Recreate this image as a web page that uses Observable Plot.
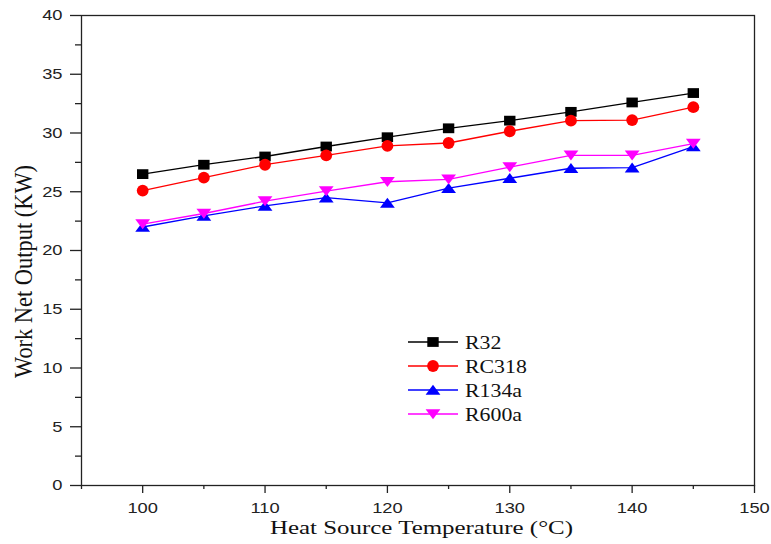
<!DOCTYPE html>
<html><head><meta charset="utf-8">
<script src="https://cdn.jsdelivr.net/npm/d3@7"></script>
<script src="https://cdn.jsdelivr.net/npm/@observablehq/plot@0.6"></script>
<style>body{margin:0;background:#fff} #chart{width:771px;height:544px}</style>
</head><body><div id="chart"></div>
<script>
const temps = [100, 105, 110, 115, 120, 125, 130, 135, 140, 145];
const r32   = [26.5, 27.3, 28.0, 28.85, 29.64, 30.4, 31.05, 31.8, 32.6, 33.4];
const rc318 = [25.1, 26.2, 27.3, 28.1, 28.9, 29.15, 30.15, 31.05, 31.1, 32.2];
const r134a = [22.0, 22.95, 23.8, 24.5, 24.05, 25.3, 26.15, 27.0, 27.05, 28.85];
const r600a = [22.25, 23.15, 24.2, 25.05, 25.85, 26.05, 27.1, 28.1, 28.1, 29.1];
const seriesNames = ["R32", "RC318", "R134a", "R600a"];
const seriesValues = [r32, rc318, r134a, r600a];
const seriesColors = ["#000000", "#ff0000", "#0000ff", "#ff00ff"];
const xTicks = [100, 110, 120, 130, 140, 150];
const xMinorTicks = [95, 105, 115, 125, 135, 145];
const yTicks = [0, 5, 10, 15, 20, 25, 30, 35, 40];
const yMinorTicks = [2.5, 7.5, 12.5, 17.5, 22.5, 27.5, 32.5, 37.5];
const xLabel = "Heat Source Temperature (°C)";
const yLabel = "Work Net Output (KW)";

const SX = 1.18;
function poly(pts) {
  return {draw(ctx) { ctx.moveTo(pts[0][0], pts[0][1]); for (let i = 1; i < pts.length; i++) ctx.lineTo(pts[i][0], pts[i][1]); ctx.closePath(); }};
}
const symSquare = poly([[-5.7, -4.9], [5.7, -4.9], [5.7, 4.9], [-5.7, 4.9]]);
const symCircle = {draw(ctx) { ctx.moveTo(5.9, 0); ctx.arc(0, 0, 5.9, 0, 2 * Math.PI); ctx.closePath(); }};
const symUp = poly([[0, -5.2], [7.4, 4.8], [-7.4, 4.8]]);
const symDown = poly([[0, 5.2], [7.4, -4.8], [-7.4, -4.8]]);
const symbols = [symSquare, symCircle, symUp, symDown];

const marks = [];
seriesNames.forEach((name, i) => {
  const rows = temps.map((t, j) => ({t, v: seriesValues[i][j]}));
  marks.push(Plot.line(rows, {x: "t", y: "v", stroke: seriesColors[i], strokeWidth: 1.3}));
  marks.push(Plot.dot(rows, {x: "t", y: "v", symbol: symbols[i], r: 5, fill: seriesColors[i], stroke: "none"}));
});

const axisColor = "#222";
const svg = Plot.plot({
  width: 771, height: 544,
  marginLeft: 81, marginRight: 17, marginTop: 15, marginBottom: 59,
  style: {fontFamily: "'Liberation Sans', Arial, sans-serif", fontSize: "15.5px", background: "#fff", color: axisColor},
  x: {domain: [95, 150]},
  y: {domain: [0, 40]},
  marks: [
    Plot.axisX({ticks: xMinorTicks, tickSize: 4, text: null, label: null, stroke: axisColor, strokeWidth: 1.3}),
    Plot.axisX({ticks: xTicks, tickSize: 8, tickPadding: 8, label: null, fontSize: 15.5, fill: axisColor, stroke: axisColor, strokeWidth: 1.3}),
    Plot.axisY({ticks: yMinorTicks, tickSize: 6, text: null, label: null, stroke: axisColor, strokeWidth: 1.3}),
    Plot.axisY({ticks: yTicks, tickSize: 11, tickPadding: 8, label: null, fontSize: 15.5, fill: axisColor, stroke: axisColor, strokeWidth: 1.3}),
    Plot.frame({stroke: axisColor, strokeWidth: 1.3}),
    ...marks
  ]
});
document.getElementById("chart").appendChild(svg);

// stretch tick labels horizontally like the reference
d3.select(svg).selectAll("text").each(function() {
  const l = this.getComputedTextLength();
  this.setAttribute("textLength", l * SX);
  this.setAttribute("lengthAdjust", "spacingAndGlyphs");
});

const s = d3.select(svg);
const serif = "'Liberation Serif', 'Times New Roman', serif";
s.append("text").attr("x", 421.5).attr("y", 534).attr("text-anchor", "middle")
  .attr("font-family", serif).attr("font-size", 19).attr("fill", "#111")
  .attr("textLength", 303).attr("lengthAdjust", "spacingAndGlyphs").text(xLabel);
s.append("g").attr("transform", "translate(32,271.5) scale(1.18,1) rotate(-90)")
  .append("text").attr("text-anchor", "middle")
  .attr("font-family", serif).attr("font-size", 21.5).attr("fill", "#111")
  .attr("textLength", 213).attr("lengthAdjust", "spacingAndGlyphs").text(yLabel);

// legend
const lg = s.append("g").attr("aria-label", "legend");
seriesNames.forEach((name, i) => {
  const y = 342 + i * 24;
  lg.append("line").attr("x1", 408).attr("x2", 458).attr("y1", y).attr("y2", y)
    .attr("stroke", seriesColors[i]).attr("stroke-width", 1.3);
  lg.append("path").attr("transform", `translate(433,${y})`)
    .attr("d", d3.symbol().type(symbols[i])()).attr("fill", seriesColors[i]);
  const t = lg.append("text").attr("x", 465).attr("y", y + 6.5).attr("text-anchor", "start")
    .attr("font-family", serif).attr("font-size", 18.5).attr("fill", "#111").text(name);
  const l = t.node().getComputedTextLength();
  t.attr("textLength", l * SX).attr("lengthAdjust", "spacingAndGlyphs");
});
</script>
</body></html>
